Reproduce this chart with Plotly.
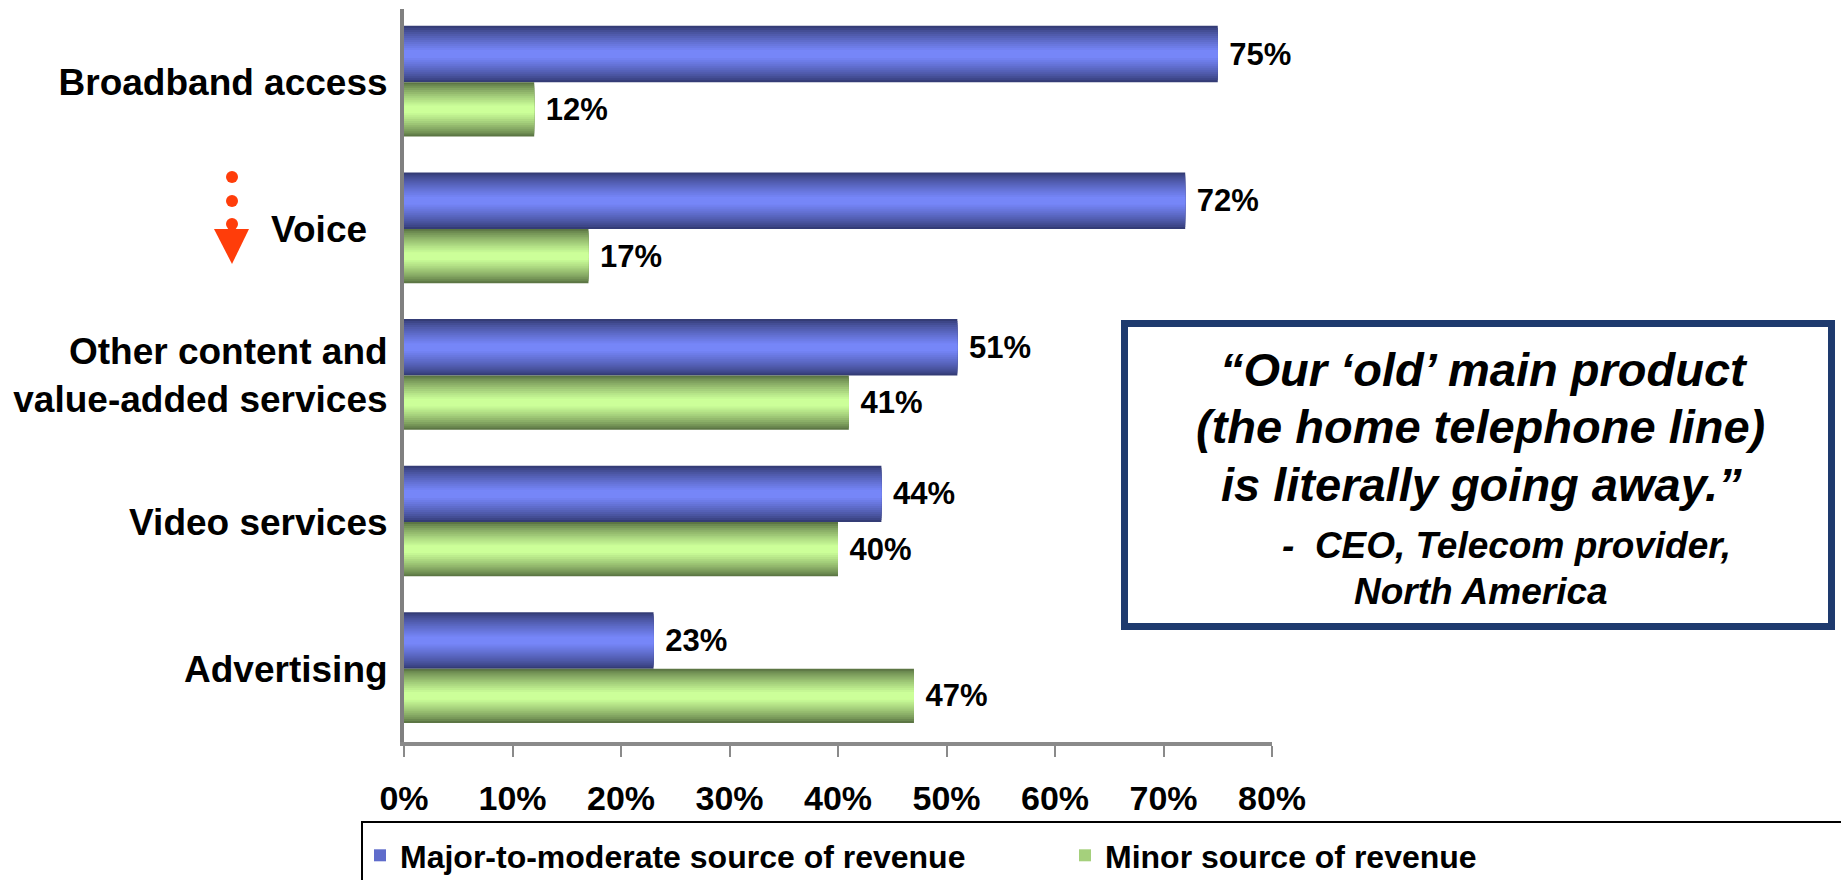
import plotly.graph_objects as go

# ---------------- data ----------------
categories = ["Broadband access", "Voice", "Other content and value-added services",
              "Video services", "Advertising"]
category_ticktext = ["Broadband access", "Voice\u00a0\u00a0", "Other content and<br>value-added services",
                     "Video services", "Advertising"]
major_values = [75, 72, 51, 44, 23]
minor_values = [12, 17, 41, 40, 47]
series_names = ["Major-to-moderate source of revenue", "Minor source of revenue"]
x_tick_values = [0, 10, 20, 30, 40, 50, 60, 70, 80]
x_tick_labels = ["0%", "10%", "20%", "30%", "40%", "50%", "60%", "70%", "80%"]
quote_lines = ["\u201cOur \u2018old\u2019 main product", "(the home telephone line)",
               "is literally going away.\u201d", "-\u00a0\u00a0CEO, Telecom provider,", "North America"]

# ---------------- layout geometry ----------------
W, H = 1841, 880
PL, PR, PT, PB = 404, 1272, 9, 742
def fx(px):
    return (px - PL) / (PR - PL)
def fy(py):
    return (PB - py) / (PB - PT)

SANS = "Liberation Sans, Arial, sans-serif"

BLUE_DARK, BLUE_LIGHT = (52, 60, 118), (118, 134, 248)
GREEN_DARK, GREEN_LIGHT = (92, 118, 68), (204, 255, 153)

def mix(a, b, f):
    return "rgb(%d,%d,%d)" % tuple(round(a[i] + (b[i] - a[i]) * f) for i in range(3))

N = 14
fig = go.Figure()
series = [(major_values, BLUE_DARK, BLUE_LIGHT, -0.385, 0.0, "legend"),
          (minor_values, GREEN_DARK, GREEN_LIGHT, 0.0, 0.37, "legend2")]
for s, (vals, dark, light, lo, hi, lg) in enumerate(series):
    c = (lo + hi) / 2
    h = (hi - lo) / 2
    for k in range(N):
        d = 1 - k / N
        f = min(1.0, max(0.0, (1 - d) / 0.85)) ** 0.8
        hh = h * d
        first = (k == 0)
        fig.add_trace(go.Bar(
            y=categories, x=vals, orientation="h",
            width=2 * hh, offset=c - hh,
            marker=dict(color=mix(dark, light, f), line=dict(width=0)),
            name=series_names[s],
            legend=lg,
            showlegend=(k == N // 2),
            text=["\u00a0%d%%" % v for v in vals] if first else None,
            textposition="outside" if first else "none",
            textfont=dict(family=SANS, size=31, color="black", weight="bold"),
            constraintext="none",
            cliponaxis=False,
            hoverinfo="skip" if not first else "x+y",
        ))

legend_common = dict(orientation="h", xanchor="left", yanchor="top",
                     font=dict(family=SANS, size=32, color="black", weight="bold"),
                     bgcolor="rgba(0,0,0,0)", borderwidth=0, itemwidth=30)

fig.update_layout(
    width=W, height=H,
    margin=dict(l=PL, r=W - PR, t=PT, b=H - PB, pad=0, autoexpand=False),
    paper_bgcolor="white", plot_bgcolor="white",
    barmode="overlay",
    showlegend=True,
    legend=dict(x=fx(360), y=fy(828), **legend_common),
    legend2=dict(x=fx(1065), y=fy(828), **legend_common),
    xaxis=dict(range=[0, 80], tickvals=x_tick_values, ticktext=x_tick_labels,
               showgrid=False, zeroline=False, showline=True, linewidth=4, linecolor="#8a8a8a",
               ticks="outside", ticklen=11, tickwidth=2, tickcolor="#8a8a8a",
               ticklabelstandoff=12, automargin=False,
               tickfont=dict(family=SANS, size=34, color="black", weight="bold")),
    yaxis=dict(categoryorder="array", categoryarray=categories, autorange="reversed",
               tickvals=categories, ticktext=category_ticktext,
               showgrid=False, zeroline=False, showline=True, linewidth=4, linecolor="#808080",
               ticks="", ticklabelstandoff=5, automargin=False,
               tickfont=dict(family=SANS, size=37, color="black", weight="bold")),
)

# legend frame
fig.add_shape(type="rect", xref="paper", yref="paper",
              x0=fx(362), x1=fx(1900), y0=fy(822), y1=fy(900),
              line=dict(color="black", width=2), fillcolor="rgba(0,0,0,0)", layer="below")

# quote box
fig.add_shape(type="rect", xref="paper", yref="paper",
              x0=fx(1124.5), x1=fx(1831.5), y0=fy(323.5), y1=fy(626.5),
              line=dict(color="#1E3A6E", width=7), fillcolor="white")
quote_pos = [(1484, 369, 47), (1480, 426, 47), (1481, 484, 47), (1506, 545, 37), (1481, 591, 37)]
for txt, (qx, qy, qs) in zip(quote_lines, quote_pos):
    fig.add_annotation(xref="paper", yref="paper", x=fx(qx), y=fy(qy),
                       xanchor="center", yanchor="middle", showarrow=False, text=txt,
                       font=dict(family=SANS, size=qs, color="black",
                                 weight="bold", style="italic"))

# red dotted arrow next to "Voice"
RED = "#FF3D0A"
for cy in (177, 201, 224):
    fig.add_shape(type="circle", xref="paper", yref="paper",
                  x0=fx(226), x1=fx(238), y0=fy(cy - 6), y1=fy(cy + 6),
                  fillcolor=RED, line=dict(width=0))
fig.add_shape(type="path", xref="paper", yref="paper",
              path="M %f,%f L %f,%f L %f,%f Z" % (fx(214), fy(229), fx(249), fy(229), fx(232), fy(264)),
              fillcolor=RED, line=dict(width=0))

fig.write_html("out.html")
